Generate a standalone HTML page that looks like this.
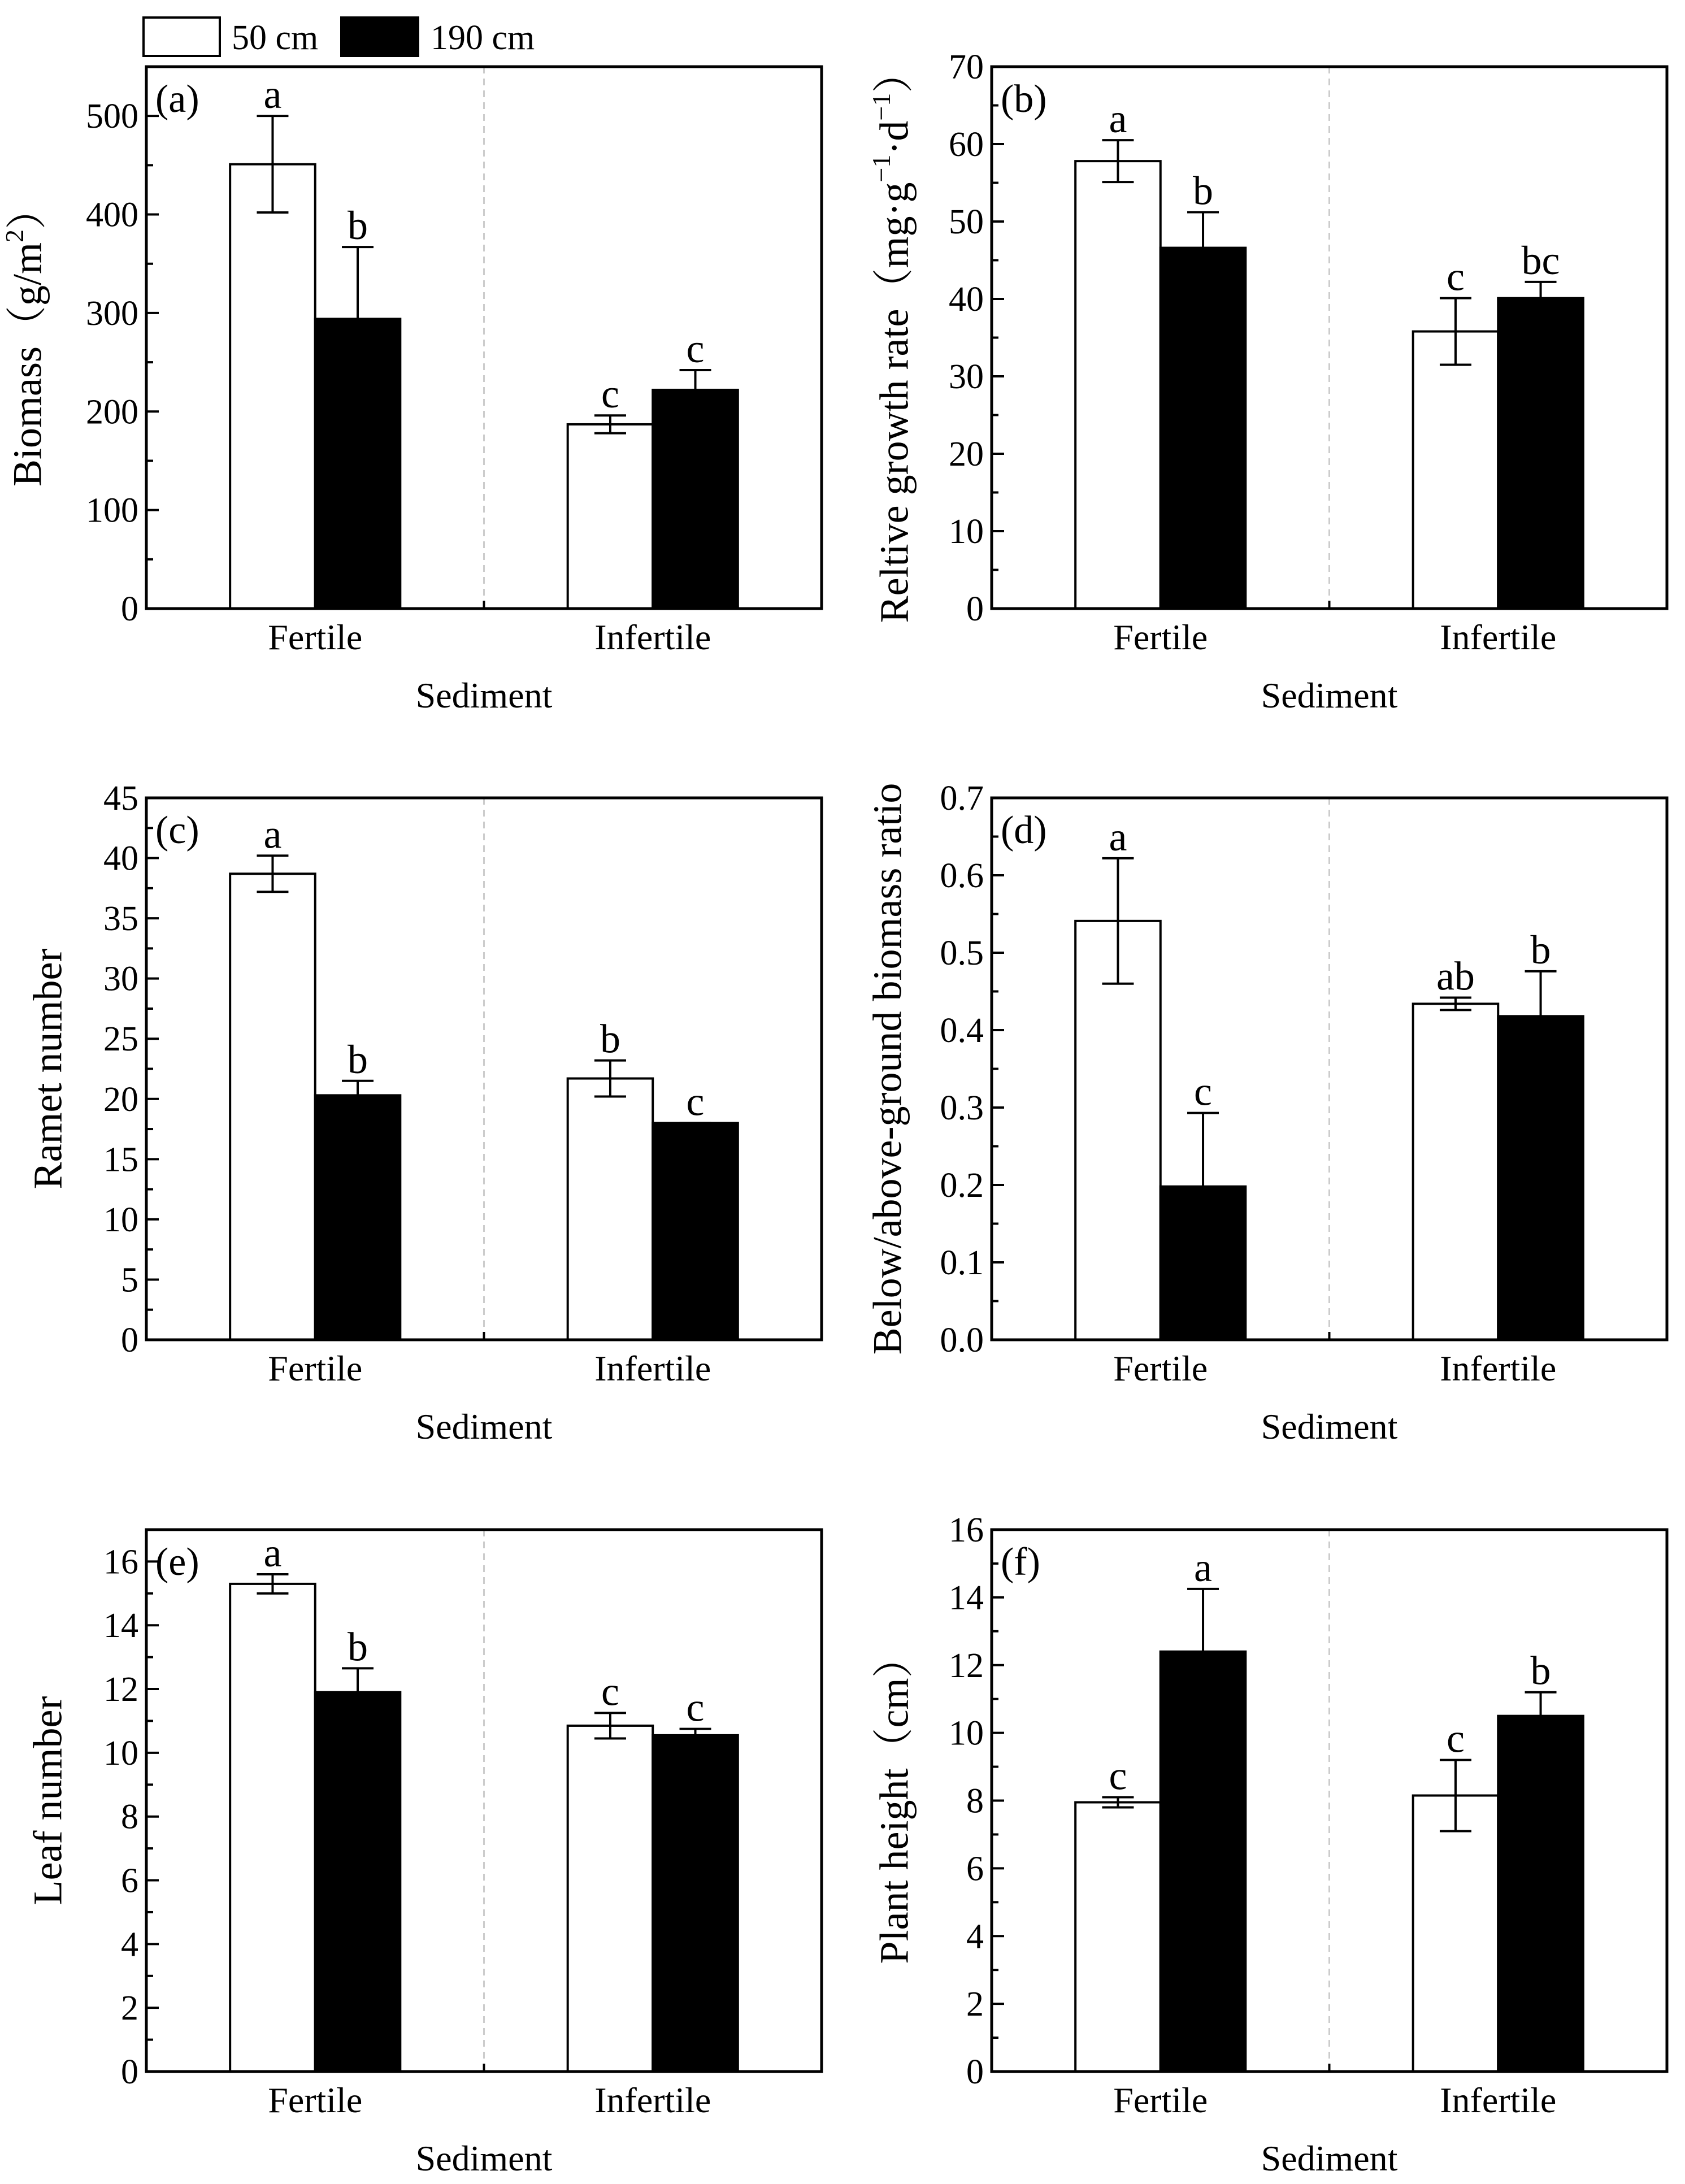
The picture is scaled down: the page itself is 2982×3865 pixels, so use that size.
<!DOCTYPE html>
<html><head><meta charset="utf-8"><style>
html,body{margin:0;padding:0;background:#fff}
svg{display:block}
text{font-family:"Liberation Serif","Noto Serif CJK SC",serif;fill:#000}
</style></head><body>
<svg id="fig" width="2982" height="3865" viewBox="0 0 2982 3865" xmlns="http://www.w3.org/2000/svg">
<g>
<rect x="254" y="31" width="135" height="68" fill="#fff" stroke="#000" stroke-width="4"/>
<text x="410" y="87" font-size="62">50 cm</text>
<rect x="604" y="31" width="136" height="68" fill="#000" stroke="#000" stroke-width="4"/>
<text x="762" y="87" font-size="62">190 cm</text>
</g>
</svg>
<script>
const categories = ["Fertile","Infertile"];
const seriesNames = ["50 cm","190 cm"];
// panel a
const aVals50 = [451, 187], aVals190 = [294, 222], aErr50 = [49, 9], aErr190 = [73, 20], aLetters = ["a","b","c","c"];
const aTicks = [0,100,200,300,400,500];
// panel b
const bVals50 = [57.8, 35.8], bVals190 = [46.6, 40.1], bErr50 = [2.7, 4.3], bErr190 = [4.6, 2.1], bLetters = ["a","b","c","bc"];
const bTicks = [0,10,20,30,40,50,60,70];
// panel c
const cVals50 = [38.7, 21.7], cVals190 = [20.3, 18.0], cErr50 = [1.5, 1.5], cErr190 = [1.2, 0], cLetters = ["a","b","b","c"];
const cTicks = [0,5,10,15,20,25,30,35,40,45];
// panel d
const dVals50 = [0.541, 0.434], dVals190 = [0.198, 0.418], dErr50 = [0.081, 0.008], dErr190 = [0.095, 0.058], dLetters = ["a","c","ab","b"];
const dTicks = ["0.0","0.1","0.2","0.3","0.4","0.5","0.6","0.7"];
// panel e
const eVals50 = [15.3, 10.85], eVals190 = [11.9, 10.55], eErr50 = [0.3, 0.4], eErr190 = [0.75, 0.2], eLetters = ["a","b","c","c"];
const eTicks = [0,2,4,6,8,10,12,14,16];
// panel f
const fVals50 = [7.95, 8.15], fVals190 = [12.4, 10.5], fErr50 = [0.15, 1.05], fErr190 = [1.85, 0.7], fLetters = ["c","a","c","b"];
const fTicks = [0,2,4,6,8,10,12,14,16];

const NS = "http://www.w3.org/2000/svg";
const svg = document.getElementById("fig");
function mk(tag, attrs, parent){ const e=document.createElementNS(NS,tag); for(const k in attrs) e.setAttribute(k,attrs[k]); (parent||svg).appendChild(e); return e; }

function panel(id, L, T, W, H, yMax, ticks, minorStep, v50, v190, e50, e190, letters, ylabel, ylabX){
  const g = mk("g",{});
  
  
  const B = T + H;
  const y = v => B - v / yMax * H;
  const x = f => L + f * W;
  const barW = 0.126 * W;
  const dv = mk("line",{x1:x(0.5),x2:x(0.5),y1:T,y2:B,stroke:"#ccc","stroke-width":3,"stroke-dasharray":"12,9"},g);
  
  
  categories.forEach((c,i)=>{
    const cx = x(0.25 + 0.5*i);
    [[v50,e50,"#fff",-1],[v190,e190,"#000",0]].forEach((s,j)=>{
      const val=s[0][i], err=s[1][i];
      const bx = cx + s[3]*barW;
      const r = mk("rect",{x:bx,y:y(val),width:barW,height:B-y(val),fill:s[2],stroke:"#000","stroke-width":4},g);
      
      
      const ex = bx + barW/2;
      const eb = mk("path",{d:`M${ex},${y(val-err)}V${y(val+err)}M${ex-28},${y(val+err)}H${ex+28}M${ex-28},${y(val-err)}H${ex+28}`,stroke:"#000","stroke-width":4,fill:"none"},g);
      
      
      const lt = mk("text",{x:ex,y:y(val+err)-14,"font-size":72,"text-anchor":"middle"},g);
      lt.textContent = letters[i*2+j];
      
      
    });
    const cl = mk("text",{x:cx,y:B+72,"font-size":64,"text-anchor":"middle"},g);
    cl.textContent = c;
    
    
  });
  ticks.forEach(t=>{
    const v = parseFloat(t);
    mk("line",{x1:L,x2:L+22,y1:y(v),y2:y(v),stroke:"#000","stroke-width":4},g);
    const tl = mk("text",{x:L-14,y:y(v)+21,"font-size":62,"text-anchor":"end"},g);
    tl.textContent = t;
    
    
  });
  for(let v=minorStep; v<yMax; v+=minorStep*2){
    mk("line",{x1:L,x2:L+12,y1:y(v),y2:y(v),stroke:"#000","stroke-width":4},g);
  }
  mk("line",{x1:x(0.5),x2:x(0.5),y1:B,y2:B-14,stroke:"#000","stroke-width":4},g);
  const frame = mk("rect",{x:L,y:T,width:W,height:H,fill:"none",stroke:"#000","stroke-width":5},g);
  
  
  const pl = mk("text",{x:L+16,y:T+80,"font-size":70},g);
  pl.textContent = "("+id+")";
  
  
  const xt = mk("text",{x:x(0.5),y:B+175,"font-size":64,"text-anchor":"middle"},g);
  xt.textContent = "Sediment";
  
  
  const yt = mk("text",{x:ylabX,y:T+H/2,"font-size":72,"text-anchor":"middle",transform:`rotate(-90 ${ylabX} ${T+H/2})`,"dominant-baseline":"middle"},g);
  yt.innerHTML = ylabel;
  
  
}
const LW = 1195, H = 959;
panel("a",259,118,LW,H,550,aTicks,50,aVals50,aVals190,aErr50,aErr190,aLetters,'Biomass（g/m<tspan baseline-shift="super" font-size="46">2</tspan>）',56);
panel("b",1755,118,LW,H,70,bTicks,5,bVals50,bVals190,bErr50,bErr190,bLetters,'Reltive growth rate（mg·g<tspan baseline-shift="super" font-size="46">−1</tspan>·d<tspan baseline-shift="super" font-size="46">−1</tspan>）',1590);
panel("c",259,1412,LW,H,45,cTicks,2.5,cVals50,cVals190,cErr50,cErr190,cLetters,'Ramet number',92);
panel("d",1755,1412,LW,H,0.7,dTicks,0.05,dVals50,dVals190,dErr50,dErr190,dLetters,'Below/above-ground biomass ratio',1578);
panel("e",259,2707,LW,H,17,eTicks,1,eVals50,eVals190,eErr50,eErr190,eLetters,'Leaf number',92);
panel("f",1755,2707,LW,H,16,fTicks,1,fVals50,fVals190,fErr50,fErr190,fLetters,'Plant height（cm）',1590);
</script>
</body></html>
